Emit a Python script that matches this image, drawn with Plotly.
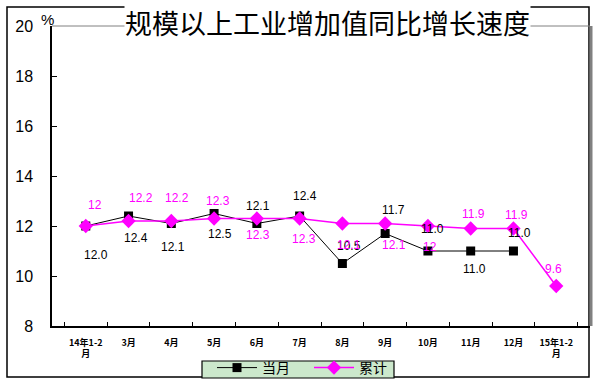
import plotly.graph_objects as go

categories = ["14年1-2<br>月", "3月", "4月", "5月", "6月", "7月", "8月", "9月", "10月", "11月", "12月", "15年1-2<br>月"]
monthly = [12.0, 12.4, 12.1, 12.5, 12.1, 12.4, 10.5, 11.7, 11.0, 11.0, 11.0, None]
cumulative = [12.0, 12.2, 12.2, 12.3, 12.3, 12.3, 12.1, 12.1, 12.0, 11.9, 11.9, 9.6]
title_text = "规模以上工业增加值同比增长速度"

# label offsets (px): (xshift, yshift)
monthly_off = [(10, -29), (7, -22), (2, -23), (6, -20), (1, 18), (5, 20), (7, 18), (8, 24), (5, 22), (4, -18), (6, 18), None]
cum_off = [(9, 21), (12, 23), (6, 23), (4, 18), (1, -16), (4, -20), (7, -21), (9, -21), (2, -21), (3, 15), (3, 14), (-3, 17)]

FONT = "Arial, 'Liberation Sans', sans-serif"
CJK = "'Noto Sans CJK SC', sans-serif"

fig = go.Figure()
fig.add_trace(go.Scatter(x=categories, y=monthly, name="当月", mode="lines+markers",
                         line=dict(color="black", width=1),
                         marker=dict(symbol="square", size=9, color="black")))
fig.add_trace(go.Scatter(x=categories, y=cumulative, name="累计", mode="lines+markers",
                         line=dict(color="#FF00FF", width=1.5),
                         marker=dict(symbol="diamond", size=11, color="#FF00FF")))

ann = []
for c, v, o in zip(categories, monthly, monthly_off):
    if v is None:
        continue
    ann.append(dict(x=c, y=v, xref="x", yref="y", text=f"{v:.1f}", showarrow=False,
                    xshift=o[0], yshift=o[1], font=dict(family=FONT, size=12, color="black")))
for c, v, o in zip(categories, cumulative, cum_off):
    ann.append(dict(x=c, y=v, xref="x", yref="y", text=f"{v:g}", showarrow=False,
                    xshift=o[0], yshift=o[1], font=dict(family=FONT, size=12, color="#FF00FF")))

L, R, T, B = 52, 10, 26, 59
W, H = 600, 385
pw, ph = W - L - R, H - T - B

def px(x):
    return (x - L) / pw

def py(y):
    return (H - B - y) / ph

ann.append(dict(x=px(327), y=py(23), xref="paper", yref="paper", text=title_text, showarrow=False,
                font=dict(family=CJK, size=27, color="black"), bgcolor="white", borderpad=0,
                xanchor="center", yanchor="middle"))
ann.append(dict(x=px(47), y=py(20), xref="paper", yref="paper", text="%", showarrow=False,
                font=dict(family=FONT, size=15, color="black"), xanchor="center", yanchor="middle"))

shapes = [
    dict(type="rect", xref="paper", yref="paper", x0=px(7), x1=px(589), y0=py(377), y1=py(7),
         line=dict(color="black", width=1.5), layer="below"),
    dict(type="line", xref="paper", yref="paper", x0=0, x1=1, y0=1, y1=1,
         line=dict(color="#808080", width=1), layer="below"),
    dict(type="line", xref="paper", yref="paper", x0=px(591), x1=px(591), y0=0, y1=1,
         line=dict(color="#808080", width=3), layer="below"),
    # legend box
    dict(type="rect", xref="paper", yref="paper", x0=px(202), x1=px(394), y0=py(378), y1=py(361),
         line=dict(color="black", width=1.2), fillcolor="#CCE8CC", layer="above"),
]

fig.update_layout(
    width=W, height=H,
    margin=dict(l=L, r=R, t=T, b=B, autoexpand=False),
    paper_bgcolor="white", plot_bgcolor="white",
    showlegend=True,
    legend=dict(orientation="h", x=px(212), xanchor="left", y=py(352), yanchor="top",
                bgcolor="rgba(0,0,0,0)", borderwidth=0,
                font=dict(family=CJK, size=14, color="black"), itemwidth=40,
                entrywidth=42, tracegroupgap=0),
    annotations=ann,
    shapes=shapes,
    xaxis=dict(type="category", categoryorder="array", categoryarray=categories,
               showline=True, linecolor="black", linewidth=1.5, mirror=False,
               ticks="inside", tickson="boundaries", ticklen=4, tickcolor="black",
               tickfont=dict(family=CJK, size=9, color="black", weight="bold"), showgrid=False,
               zeroline=False, tickangle=0, ticklabelstandoff=7, automargin=False),
    yaxis=dict(range=[8, 20], dtick=2, showline=True, linecolor="black", linewidth=1.5,
               ticks="inside", ticklen=5, tickcolor="black", showgrid=False, zeroline=False,
               tickfont=dict(family=FONT, size=16, color="black"), ticklabelstandoff=14,
               automargin=False),
)

fig.write_html("out.html", config={"displayModeBar": False},
               post_script="document.body.style.margin='0';document.body.style.overflow='hidden';")
